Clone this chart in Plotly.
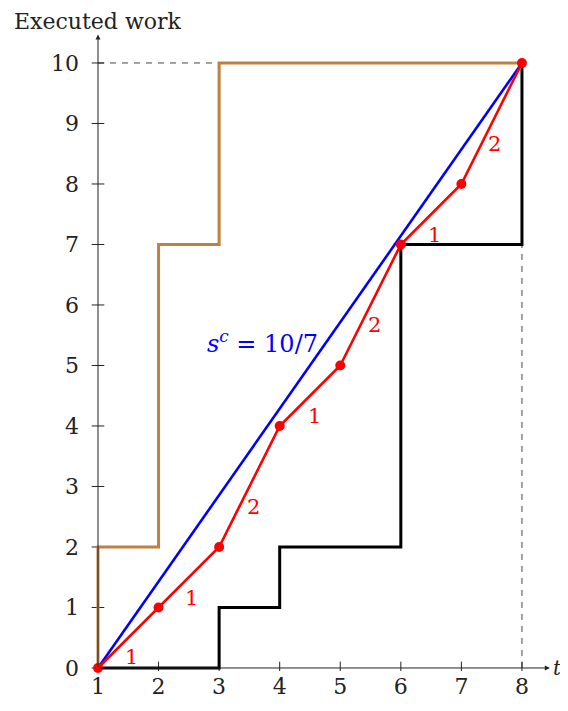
import plotly.graph_objects as go

# step functions and schedule
upper_t = [1, 1, 2, 2, 3, 3, 8]
upper_w = [0, 2, 2, 7, 7, 10, 10]
lower_t = [1, 3, 3, 4, 4, 6, 6, 8, 8]
lower_w = [0, 0, 1, 1, 2, 2, 7, 7, 10]
sched_t = [1, 2, 3, 4, 5, 6, 7, 8]
sched_w = [0, 1, 2, 4, 5, 7, 8, 10]
speed_t = [1, 8]
speed_w = [0, 10]

# slope labels on the red segments
slope_x = [1.55, 2.55, 3.56, 4.57, 5.57, 6.56, 7.54]
slope_y = [0.18, 1.16, 2.66, 4.17, 5.67, 7.16, 8.66]
slope_txt = ["1", "1", "2", "1", "2", "1", "2"]

x_ticks = [1, 2, 3, 4, 5, 6, 7, 8]
y_ticks = [0, 1, 2, 3, 4, 5, 6, 7, 8, 9, 10]

FONT = "DejaVu Serif"
BROWN = "#BF8040"

fig = go.Figure()

# guide lines
fig.add_shape(type="line", x0=1, x1=3, y0=10, y1=10,
              line=dict(color="#444", width=1, dash="6px,6px"), layer="below")
fig.add_shape(type="line", x0=8, x1=8, y0=0, y1=7,
              line=dict(color="#444", width=1, dash="6px,6px"), layer="below")

# axes
fig.add_annotation(x=8.46, y=0, ax=1, ay=0, axref="x", ayref="y", xref="x", yref="y",
                   showarrow=True, arrowhead=2, arrowsize=1, arrowwidth=1,
                   arrowcolor="#222", text="")
fig.add_annotation(x=1, y=10.47, ax=1, ay=0, axref="x", ayref="y", xref="x", yref="y",
                   showarrow=True, arrowhead=2, arrowsize=1, arrowwidth=1,
                   arrowcolor="#222", text="")

# tick marks crossing the axes
fig.add_trace(go.Scatter(x=x_ticks, y=[0] * len(x_ticks), mode="markers",
                         marker=dict(symbol="line-ns", size=9,
                                     line=dict(color="#222", width=1)),
                         hoverinfo="skip", showlegend=False))
fig.add_trace(go.Scatter(x=[1] * len(y_ticks), y=y_ticks, mode="markers",
                         marker=dict(symbol="line-ew", size=9,
                                     line=dict(color="#222", width=1)),
                         hoverinfo="skip", showlegend=False))

fig.add_trace(go.Scatter(x=upper_t, y=upper_w, mode="lines",
                         line=dict(color=BROWN, width=3), showlegend=False))
fig.add_trace(go.Scatter(x=lower_t, y=lower_w, mode="lines",
                         line=dict(color="black", width=3), showlegend=False))
fig.add_trace(go.Scatter(x=speed_t, y=speed_w, mode="lines",
                         line=dict(color="#0000FF", width=2.6), showlegend=False))
fig.add_trace(go.Scatter(x=sched_t, y=sched_w, mode="lines+markers",
                         line=dict(color="#FF0000", width=2.6),
                         marker=dict(color="#FF0000", size=10),
                         cliponaxis=False, showlegend=False))

for sx, sy, st in zip(slope_x, slope_y, slope_txt):
    fig.add_annotation(x=sx, y=sy, text=st, showarrow=False,
                       font=dict(family=FONT, size=21, color="#FF0000"))

fig.add_annotation(x=3.71, y=5.39, text="<i>s</i><sup><i>c</i></sup> = 10/7",
                   showarrow=False, font=dict(family=FONT, size=24, color="#0000FF"))

fig.add_annotation(x=1, y=10.47, xref="x", yref="y", text="Executed work",
                   showarrow=False, yshift=13, xanchor="center",
                   font=dict(family=FONT, size=22, color="#222"))
fig.add_annotation(x=8.46, y=0, xref="x", yref="y", text="<i>t</i>",
                   showarrow=False, xanchor="left", xshift=1,
                   font=dict(family=FONT, size=20, color="#222"))

# the page body adds an 8px margin, so the figure is kept inside the window
fig.update_layout(
    width=552, height=695,
    margin=dict(l=72, r=4, t=22, b=32),
    plot_bgcolor="white", paper_bgcolor="white",
    font=dict(family=FONT, size=22, color="#222"),
)
fig.update_xaxes(range=[0.703, 8.562], showgrid=False, zeroline=False, showline=False,
                 tickvals=x_ticks, ticks="", automargin=False)
fig.update_yaxes(range=[-0.05, 10.545], showgrid=False, zeroline=False, showline=False,
                 tickvals=y_ticks, ticks="", automargin=False)

fig.write_html("out.html")
